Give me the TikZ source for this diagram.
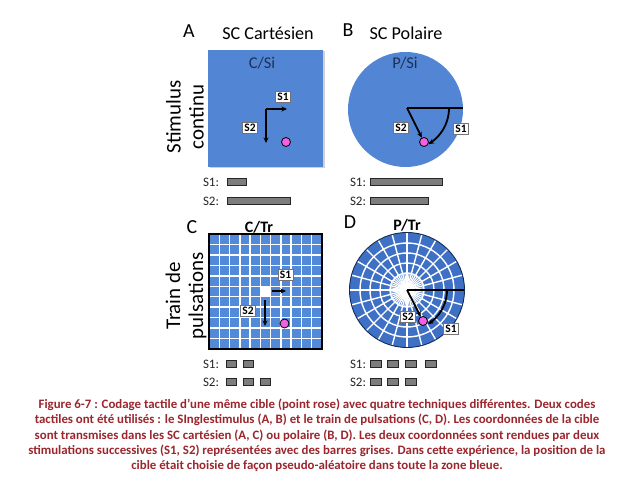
\documentclass[tikz,border=0pt]{standalone}
\usepackage{fontspec}
\setmainfont{Carlito}
\usetikzlibrary{arrows.meta}
\definecolor{blueA}{RGB}{82,134,212}
\definecolor{gridblue}{RGB}{82,137,216}
\definecolor{polIn}{RGB}{62,112,198}
\definecolor{polOut}{RGB}{34,72,145}
\definecolor{capred}{RGB}{155,38,45}
\definecolor{navy}{RGB}{28,48,88}
\definecolor{dotpink}{RGB}{245,95,228}
\definecolor{bargray}{RGB}{125,125,125}
\pgfdeclareradialshading{polshade}{\pgfpoint{0bp}{0bp}}{color(0bp)=(polIn); color(32bp)=(polIn); color(50bp)=(polOut)}
\tikzset{
  titletxt/.style={font=\fontsize{18.2}{21}\selectfont, inner sep=0},
  sidetxt/.style={font=\fontsize{21}{23}\selectfont, inner sep=0, rotate=90, align=center},
  letter/.style={font=\fontsize{20}{22}\selectfont, inner sep=0},
  sublab/.style={font=\fontsize{16.5}{18}\selectfont, text=navy, inner sep=0},
  subbold/.style={font=\bfseries\fontsize{16}{18}\selectfont, inner sep=0},
  slab/.style={draw=black!55, fill=white, font=\bfseries\fontsize{11.5}{12}\selectfont, inner xsep=1.8bp, inner ysep=1.4bp, line width=0.7bp},
  barlab/.style={font=\fontsize{13}{14}\selectfont, text=black!85, inner sep=0},
  bar/.style={draw=black!85, fill=bargray, line width=0.9bp},
  arr/.style={-{Stealth[length=5.5bp,width=5bp]}, line width=1.8bp},
  pinkdot/.style={circle, draw=black, fill=dotpink, line width=0.8bp, minimum size=9bp, inner sep=0},
  captxt/.style={font=\bfseries\fontsize{12.9}{14}\selectfont, text=capred, inner sep=0},
  gridline/.style={white, line width=1.5bp},
}
\begin{document}
\begin{tikzpicture}[x=1bp,y=-1bp]
\useasboundingbox (0,0) rectangle (634,492);
\fill[white] (0,0) rectangle (634,492);

% ---------- headings ----------
\node[letter] (lA) at (189,31) {A};
\node[titletxt] (tA) at (268,33) {SC Cartésien};
\node[letter] (lB) at (348,30) {B};
\node[titletxt] (tB) at (406,33) {SC Polaire};
\node[sidetxt] (sideA) at (185,117) {Stimulus\\continu};
\node[sidetxt] (sideC) at (186,296) {Train de\\pulsations};

% ---------- Panel A ----------
\fill[black!18] (209.5,51.5) rectangle (324.5,168.5);
\fill[blueA] (208,50) rectangle (323,167);
\node[sublab] (csi) at (262,63) {C/Si};
\coordinate (acorner) at (266,109);
\coordinate (aS1end) at (287,109);
\coordinate (aS2end) at (266,143);
\draw[arr] (acorner) -- (aS1end);
\draw[arr] (acorner) -- (aS2end);
\node[pinkdot] (adot) at (286,142) {};
\node[slab] (aS1) at (283,97) {S1};
\node[slab] (aS2) at (250,128) {S2};
\node[barlab] (aL1) at (211,182) {S1:};
\node[barlab] (aL2) at (211,201) {S2:};
\draw[bar] (227,178.5) rectangle (246,185.5);
\draw[bar] (227,197.5) rectangle (290,204.5);

% ---------- Panel B ----------
\fill[blueA] (405.5,109.5) circle[radius=57.5];
\node[sublab] (psi) at (405,63) {P/Si};
\coordinate (bcenter) at (407,108);
\coordinate (bedge) at (463,108);
\draw[line width=1.8bp] (bcenter) -- (bedge);
\node[pinkdot] (bdot) at (424,142) {};
\draw[arr] (bcenter) -- (bdot);
\draw[arr] plot[domain=0:59, samples=40, smooth] ({407+42*cos(\x)},{108+42*sin(\x)});
\node[slab] (bS2) at (401,128) {S2};
\node[slab] (bS1) at (461,129) {S1};
\node[barlab] (bL1) at (358,182) {S1:};
\node[barlab] (bL2) at (358,201) {S2:};
\draw[bar] (370,178.5) rectangle (442,185.5);
\draw[bar] (370,197.5) rectangle (428,204.5);

% ---------- Panel C ----------
\node[letter] (lC) at (192,227) {C};
\node[subbold] (ctr) at (259,227) {C/Tr};
\fill[gridblue] (209,234) rectangle (322,349);
\foreach \i in {0,...,11} {
  \draw[gridline] ({209+\i*113/11},234) -- ++(0,115);
  \draw[gridline] (209,{234+\i*115/11}) -- ++(113,0);
}
\fill[white] ({209+5*113/11},{234+5*115/11}) rectangle ++({113/11},{115/11});
\draw[black, line width=1.3bp] (209,234) rectangle (322,349);
\coordinate (cS1a) at (272,291);
\coordinate (cS1b) at (286,291);
\coordinate (cS2a) at (265,300);
\coordinate (cS2b) at (265,326);
\draw[arr] (cS1a) -- (cS1b);
\draw[arr] (cS2a) -- (cS2b);
\node[pinkdot] (cdot) at (284.5,323.5) {};
\node[slab] (cS1) at (285.5,275) {S1};
\node[slab] (cS2) at (248,311) {S2};
\node[barlab] (cL1) at (211,364) {S1:};
\node[barlab] (cL2) at (211,382) {S2:};
\foreach \x in {226,243} \draw[bar] (\x,360.5) rectangle ++(10,7);
\foreach \x in {226,243,260} \draw[bar] (\x,378.5) rectangle ++(10,7);

% ---------- Panel D ----------
\node[letter] (lD) at (350,222) {D};
\node[subbold] (ptr) at (407,225) {P/Tr};
\shade[shading=polshade] (407,290) circle[radius=57.5];
\foreach \r in {17,27,37,47} \draw[gridline, line width=1.4bp] (407,290) circle[radius=\r];
\foreach \a in {0,15,...,345} \draw[gridline, line width=1.4bp] (407,290) -- ++(\a:57.5);
\foreach \a in {7.5,22.5,...,352.5} \draw[gridline, line width=1.1bp] (407,290) -- ++(\a:17);
\fill[white] (407,290) circle[radius=8];
\draw[polOut!60!black, line width=0.9bp] (407,290) circle[radius=57.5];
\coordinate (dcenter) at (407,290);
\coordinate (dedge) at (464,290);
\draw[line width=1.6bp] (dcenter) -- (dedge);
\node[pinkdot] (ddot) at (423,321) {};
\draw[arr] (dcenter) -- (ddot);
\draw[arr] plot[domain=0:58, samples=40, smooth] ({407+40*cos(\x)},{290+40*sin(\x)});
\node[slab] (dS2) at (408,317) {S2};
\node[slab] (dS1) at (451,329) {S1};
\node[barlab] (dL1) at (358,364) {S1:};
\node[barlab] (dL2) at (358,382) {S2:};
\foreach \x in {370,387,405,425} \draw[bar] (\x,360.5) rectangle ++(11,7);
\foreach \x in {370,387,405} \draw[bar] (\x,378.5) rectangle ++(11,7);

% ---------- Caption ----------
\node[captxt] (cap1) at (317,404.5) {Figure 6-7 : Codage tactile d’une même cible (point rose) avec quatre techniques différentes. Deux codes};
\node[captxt] (cap2) at (317,420) {tactiles ont été utilisés : le SInglestimulus (A, B) et le train de pulsations (C, D). Les coordonnées de la cible};
\node[captxt] (cap3) at (317,435.5) {sont transmises dans les SC cartésien (A, C) ou polaire (B, D). Les deux coordonnées sont rendues par deux};
\node[captxt] (cap4) at (317,451) {stimulations successives (S1, S2) représentées avec des barres grises. Dans cette expérience, la position de la};
\node[captxt] (cap5) at (317,466.5) {cible était choisie de façon pseudo-aléatoire dans toute la zone bleue.};
\end{tikzpicture}
\end{document}
